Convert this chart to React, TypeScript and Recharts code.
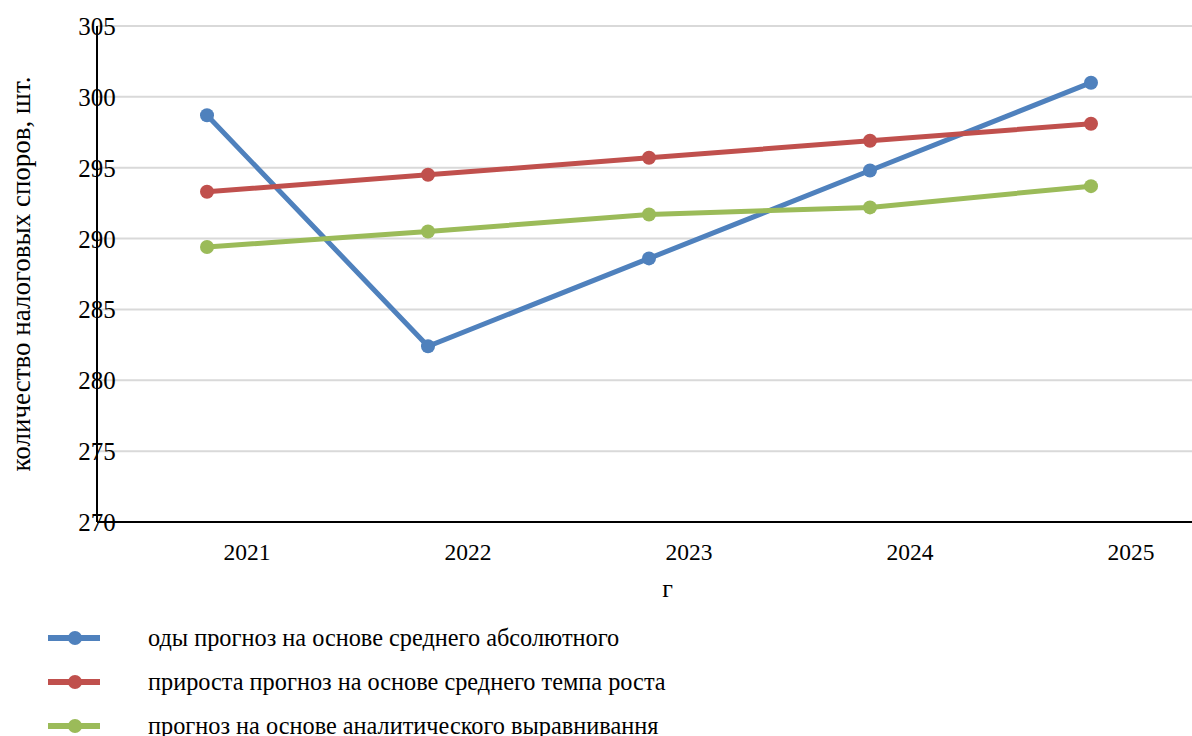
import { LineChart, Line, XAxis, YAxis, CartesianGrid, Legend } from "recharts";

const years = ["2021", "2022", "2023", "2024", "2025"];

// forecasts of the number of tax disputes
const absoluteGrowth = [298.7, 282.4, 288.6, 294.8, 301.0];
const growthRate = [293.3, 294.5, 295.7, 296.9, 298.1];
const analyticTrend = [289.4, 290.5, 291.7, 292.2, 293.7];

const seriesNames = [
  "оды прогноз на основе среднего абсолютного",
  "прироста прогноз на основе среднего темпа роста",
  "прогноз на основе аналитического выравнивання",
];

const yTicks = [270, 275, 280, 285, 290, 295, 300, 305];

const COLORS = ["#4f81bd", "#c0504d", "#9bbb59"];
const FONT = "Liberation Serif, DejaVu Serif, serif";

const data = years.map((year, i) => ({
  year,
  absolute: absoluteGrowth[i],
  rate: growthRate[i],
  trend: analyticTrend[i],
}));

function YTick({ x, y, payload }: any) {
  return (
    <text x={x} y={y} dy={9} textAnchor="middle" fill="#000" style={{ fontFamily: FONT, fontSize: 25 }}>
      {payload.value}
    </text>
  );
}

function XTick({ x, y, payload }: any) {
  return (
    <text x={x + 40} y={y} dy={38} textAnchor="middle" fill="#000" style={{ fontFamily: FONT, fontSize: 23.5 }}>
      {payload.value}
    </text>
  );
}

function LegendRows({ payload }: any) {
  return (
    <div style={{ fontFamily: FONT, fontSize: 24.3, color: "#000" }}>
      {(payload || []).map((entry: any) => (
        <div key={entry.value} style={{ display: "flex", alignItems: "center", height: 44 }}>
          <svg width={52} height={16} style={{ marginLeft: 48 }}>
            <line x1={0} y1={8} x2={52} y2={8} stroke={entry.color} strokeWidth={6} />
            <circle cx={27} cy={8} r={7} fill={entry.color} />
          </svg>
          <span style={{ marginLeft: 48 }}>{entry.value}</span>
        </div>
      ))}
    </div>
  );
}

export default function App() {
  return (
    <div style={{ position: "absolute", left: 0, top: 0, width: 1192, height: 736, background: "#fff", fontFamily: FONT }}>
      <LineChart width={1192} height={736} data={data} margin={{ top: 26, right: 0, bottom: 144, left: 0 }}>
        <CartesianGrid vertical={false} stroke="#d9d9d9" strokeWidth={2} />
        <XAxis
          dataKey="year"
          height={70}
          padding={{ left: 110, right: 101 }}
          axisLine={{ stroke: "#000", strokeWidth: 2 }}
          tickLine={false}
          tickSize={0}
          tickMargin={0}
          tick={<XTick />}
          interval={0}
          label={{
            value: "г",
            position: "insideBottom",
            offset: 0,
            dx: 23,
            dy: 5,
            fill: "#000",
            style: { fontFamily: FONT, fontSize: 26 },
          }}
        />
        <YAxis
          width={97}
          domain={[270, 305]}
          ticks={yTicks}
          axisLine={{ stroke: "#000", strokeWidth: 2 }}
          tickLine={false}
          tickSize={0}
          tickMargin={0}
          tick={<YTick />}
          interval={0}
          label={{
            value: "количество налоговых споров, шт.",
            angle: -90,
            position: "center",
            dx: -28,
            fill: "#000",
            style: { fontFamily: FONT, fontSize: 27 },
          }}
        />
        <Legend
          layout="vertical"
          align="center"
          verticalAlign="middle"
          content={<LegendRows />}
          wrapperStyle={{ left: 0, top: 616, width: 800 }}
        />
        <Line
          type="linear"
          dataKey="absolute"
          name={seriesNames[0]}
          stroke={COLORS[0]}
          strokeWidth={5}
          dot={{ r: 7, fill: COLORS[0], stroke: "none" }}
          activeDot={false}
          isAnimationActive={false}
        />
        <Line
          type="linear"
          dataKey="rate"
          name={seriesNames[1]}
          stroke={COLORS[1]}
          strokeWidth={5}
          dot={{ r: 7, fill: COLORS[1], stroke: "none" }}
          activeDot={false}
          isAnimationActive={false}
        />
        <Line
          type="linear"
          dataKey="trend"
          name={seriesNames[2]}
          stroke={COLORS[2]}
          strokeWidth={5}
          dot={{ r: 7, fill: COLORS[2], stroke: "none" }}
          activeDot={false}
          isAnimationActive={false}
        />
      </LineChart>
    </div>
  );
}
